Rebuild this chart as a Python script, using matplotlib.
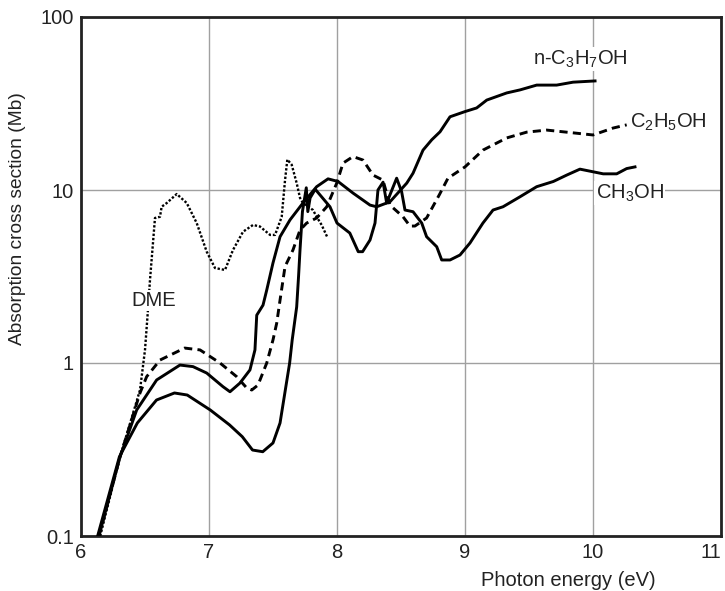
import matplotlib
matplotlib.use("Agg")
import matplotlib.pyplot as plt
from matplotlib.ticker import FixedLocator, FixedFormatter, NullLocator

plt.rcParams['font.family'] = ['Liberation Sans', 'DejaVu Sans']
plt.rcParams['mathtext.fontset'] = 'custom'
plt.rcParams['mathtext.rm'] = 'Liberation Sans'

# Photon energy (eV) and absorption cross section (Mb) for each molecule
ch3oh_x = [6.13, 6.30, 6.44, 6.59, 6.73, 6.83, 7.01, 7.16, 7.26, 7.34, 7.42, 7.50,
           7.555, 7.63, 7.65, 7.685, 7.70, 7.711, 7.73, 7.76, 7.772, 7.79, 7.83,
           7.945, 8.0, 8.10, 8.166, 8.20, 8.258, 8.297, 8.32, 8.36, 8.388, 8.466,
           8.505, 8.531, 8.594, 8.662, 8.70, 8.779, 8.818, 8.883, 8.961, 9.039,
           9.14, 9.219, 9.297, 9.43, 9.56, 9.69, 9.795, 9.898, 10.08, 10.185,
           10.263, 10.328]
ch3oh_y = [0.10, 0.287, 0.45, 0.611, 0.671, 0.653, 0.535, 0.439, 0.375, 0.314, 0.307, 0.345,
           0.45, 1.0, 1.36, 2.11, 3.2, 4.5, 7.5, 10.3, 7.5, 9.0, 10.1,
           8.0, 6.44, 5.64, 4.40, 4.40, 5.14, 6.44, 10.0, 11.1, 8.41, 11.7,
           9.77, 7.66, 7.49, 6.44, 5.37, 4.70, 3.94, 3.94, 4.21, 4.94,
           6.44, 7.66, 8.0, 9.14, 10.45, 11.2, 12.2, 13.2, 12.4, 12.4,
           13.3, 13.6]

c2h5oh_x = [6.14, 6.305, 6.461, 6.513, 6.617, 6.81, 6.93, 7.086, 7.216, 7.295, 7.334,
            7.383, 7.451, 7.50, 7.529, 7.555, 7.594, 7.656, 7.711, 7.763, 7.841,
            7.92, 7.998, 8.047, 8.125, 8.203, 8.281, 8.359, 8.414, 8.516, 8.57,
            8.609, 8.70, 8.80, 8.867, 9.0, 9.14, 9.326, 9.482, 9.638, 9.844,
            10.0, 10.156, 10.263]
c2h5oh_y = [0.10, 0.287, 0.671, 0.834, 1.04, 1.22, 1.19, 1.0, 0.834, 0.717, 0.698,
            0.746, 1.0, 1.36, 1.70, 2.31, 3.61, 4.50, 5.87, 6.44, 6.89,
            8.0, 10.96, 14.3, 15.6, 14.9, 12.2, 11.4, 8.18, 7.0, 6.19,
            6.19, 6.89, 9.4, 11.7, 13.6, 17.0, 20.0, 21.6, 22.2, 21.4,
            20.8, 22.8, 23.8]

c3h7oh_x = [6.14, 6.305, 6.435, 6.591, 6.773, 6.875, 6.982, 7.109, 7.164, 7.242, 7.32,
            7.359, 7.373, 7.422, 7.451, 7.50, 7.555, 7.633, 7.734, 7.841, 7.93,
            8.008, 8.125, 8.258, 8.31, 8.414, 8.545, 8.594, 8.672, 8.74, 8.805,
            8.883, 9.0, 9.091, 9.17, 9.326, 9.43, 9.56, 9.716, 9.844, 10.016]
c3h7oh_y = [0.10, 0.287, 0.535, 0.798, 0.973, 0.953, 0.875, 0.73, 0.682, 0.766, 0.912,
            1.19, 1.89, 2.16, 2.64, 3.79, 5.37, 6.72, 8.41, 10.45, 11.6,
            11.2, 9.6, 8.18, 8.0, 8.55, 10.96, 12.5, 17.0, 19.5, 21.7,
            26.5, 28.4, 29.8, 33.1, 36.4, 37.9, 40.4, 40.4, 42.0, 42.7]

dme_x = [6.15, 6.305, 6.461, 6.50, 6.523, 6.539, 6.578, 6.617, 6.63, 6.67, 6.748,
         6.826, 6.904, 6.982, 7.047, 7.125, 7.1875, 7.266, 7.344, 7.398, 7.477,
         7.516, 7.568, 7.594, 7.612, 7.646, 7.685, 7.711, 7.734, 7.8125, 7.841,
         7.88, 7.924]
dme_y = [0.10, 0.287, 0.698, 1.19, 2.02, 3.02, 6.89, 7.0, 8.0, 8.41, 9.48,
         8.41, 6.44, 4.40, 3.54, 3.45, 4.5, 5.74, 6.28, 6.15, 5.5,
         5.5, 7.0, 11.4, 15.0, 14.0, 10.96, 9.0, 8.41, 7.66, 7.0,
         6.28, 5.34]

x_ticks = [6, 7, 8, 9, 10, 11]
y_ticks = [0.1, 1, 10, 100]
y_tick_labels = ['0.1', '1', '10', '100']

fig = plt.figure(figsize=(7.25, 5.91), dpi=100)
ax = fig.add_axes([81 / 725, 1 - 536 / 591, 640 / 725, 519 / 591])

ax.set_yscale('log')
ax.set_xlim(6, 11)
ax.set_ylim(0.1, 100)

lw = 2.1
ax.plot(c3h7oh_x, c3h7oh_y, color='black', lw=lw, solid_joinstyle='round', zorder=3)
ax.plot(ch3oh_x, ch3oh_y, color='black', lw=lw, solid_joinstyle='round', zorder=3)
ax.plot(c2h5oh_x, c2h5oh_y, color='black', lw=lw, linestyle=(0, (2.8, 1.8)), zorder=3)
ax.plot(dme_x, dme_y, color='black', lw=1.7, linestyle=(0, (1.0, 0.8)), zorder=3)

ax.xaxis.set_major_locator(FixedLocator(x_ticks))
ax.yaxis.set_major_locator(FixedLocator(y_ticks))
ax.yaxis.set_major_formatter(FixedFormatter(y_tick_labels))
ax.yaxis.set_minor_locator(NullLocator())
ax.xaxis.set_minor_locator(NullLocator())
ax.tick_params(axis='both', length=0, labelsize=14.5, pad=5, colors='#222222')
ax.grid(True, color='#a0a0a0', lw=1.0, zorder=1)

# keep the last x tick label inside the figure
fig.canvas.draw()
xlabels = ax.get_xticklabels()
xlabels[-1].set_horizontalalignment('right')

for sp in ax.spines.values():
    sp.set_linewidth(2.0)
    sp.set_color('#222222')

ax.set_xlabel('Photon energy (eV)', fontsize=14.5, color='#222222')
ax.xaxis.set_label_coords((568 - 81) / 640, (536 - 580) / 519)
ax.xaxis.label.set_verticalalignment('center')
ax.set_ylabel('Absorption cross section (Mb)', fontsize=13.8, color='#222222')
ax.yaxis.set_label_coords(-(81 - 18) / 640, (536 - 219) / 519)
ax.yaxis.label.set_verticalalignment('center')

box = dict(facecolor='white', edgecolor='none', pad=1.0)
label_kw = dict(fontsize=14.5, color='#222222', zorder=4)
ax.text(9.53, 57, r'n-C$_\mathregular{3}$H$_\mathregular{7}$OH', ha='left', va='center',
        bbox=box, **label_kw)
ax.text(10.29, 24.5, r'C$_\mathregular{2}$H$_\mathregular{5}$OH', ha='left', va='center',
        bbox=box, **label_kw)
ax.text(10.02, 9.6, r'CH$_\mathregular{3}$OH', ha='left', va='center',
        bbox=box, **label_kw)
ax.text(6.57, 2.3, 'DME', ha='center', va='center', bbox=box, **label_kw)

fig.savefig('out.png', dpi=100)
